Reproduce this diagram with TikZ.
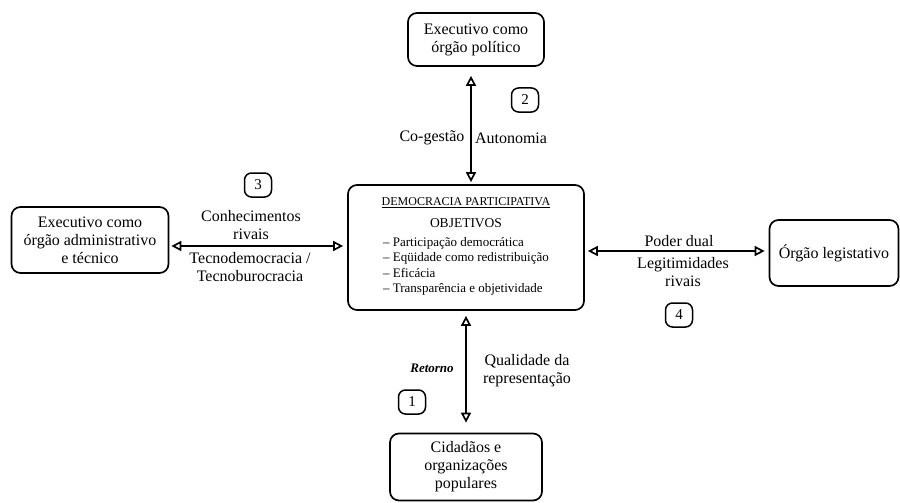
\documentclass[tikz,border=0pt]{standalone}
\usepackage{fontspec}
\setmainfont{Liberation Serif}
\usetikzlibrary{arrows.meta}

\begin{document}
\begin{tikzpicture}
  [x=1pt,y=-1pt,
   box/.style={draw,rounded corners=9pt,line width=1.7pt,align=center,
     inner sep=0pt,font=\fontsize{16}{18}\selectfont},
   num/.style={draw,rounded corners=7pt,line width=1.5pt,minimum width=27pt,
     minimum height=24pt,inner sep=0pt,font=\fontsize{15}{16}\selectfont},
   lbl/.style={align=center,inner sep=0pt,font=\fontsize{16}{18}\selectfont},
   link/.style={draw,line width=1.7pt,
     {Triangle[open,length=10pt,width=10pt]}-{Triangle[open,length=10pt,width=10pt]}}]
  \useasboundingbox (0,0) rectangle (900,503);
  \node[box,minimum width=136pt,minimum height=53pt] (exepol) at (476,39.5)
    {Executivo como\\órgão político};
  \node[box,minimum width=157pt,minimum height=66pt] (exeadm) at (90,240)
    {Executivo como\\órgão administrativo\\e técnico};
  \node[box,minimum width=129pt,minimum height=66pt] (legis) at (834,253)
    {Órgão legistativo};
  \node[box,minimum width=152pt,minimum height=67pt] (cidad) at (466,467)
    {Cidadãos e\\organizações\\populares};
  \node[box,minimum width=236pt,minimum height=125pt] (demo) at (466,247.5)
    {{\fontsize{12}{14}\selectfont\underline{DEMOCRACIA PARTICIPATIVA}}\\[4pt]
     {\fontsize{13.5}{15}\selectfont OBJETIVOS}\\[7pt]
     {\fontsize{13}{15.3}\selectfont\begin{tabular}{@{}l@{}}
       – Participação democrática\\
       – Eqüidade como redistribuição\\
       – Eficácia\\
       – Transparência e objetividade
     \end{tabular}}};
  % labels
  \node[lbl] (cogest) at (432,138) {Co-gestão};
  \node[lbl] (auton) at (511,138) {Autonomia};
  \node[lbl] (conhec) at (251,225.5) {Conhecimentos\\rivais};
  \node[lbl] (tecno) at (250,267.5) {Tecnodemocracia /\\Tecnoburocracia};
  \node[lbl] (poder) at (679,241) {Poder dual};
  \node[lbl] (legit) at (683,272) {Legitimidades\\rivais};
  \node[lbl,font=\fontsize{13}{15}\selectfont\bfseries\itshape] (retorno) at (432,368) {Retorno};
  \node[lbl] (qualid) at (527,371) {Qualidade da\\representação};
  \node[num] (n1) at (412,402) {1};
  \node[num] (n2) at (525,100) {2};
  \node[num] (n3) at (258,185) {3};
  \node[num] (n4) at (679,315) {4};
 \path
    (exepol.south -| 471,0) edge [link,shorten <=9pt,shorten >=2pt] (demo.north -| 471,0)
    (exeadm.east |- 0,246) edge [link,shorten <=2pt,shorten >=4pt] (demo.west |- 0,246)
    (demo.east |- 0,251) edge [link,shorten <=3pt,shorten >=4pt] (legis.west |- 0,251)
    (demo.south) edge [link,shorten <=5pt,shorten >=10pt] (cidad.north)
    ;

\end{tikzpicture}
\end{document}
